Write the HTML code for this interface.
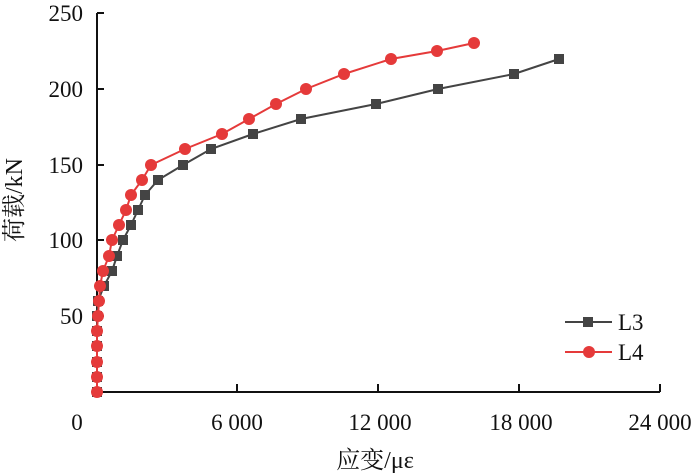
<!DOCTYPE html>
<html><head><meta charset="utf-8"><style>body{margin:0;background:#fff}svg{display:block}</style></head><body>
<svg width="700" height="475" xmlns="http://www.w3.org/2000/svg" font-family="'Liberation Serif','Noto Serif CJK SC',serif" font-size="23">
<g stroke="#111" stroke-width="2" fill="none">
<path d="M97,13V392H660"/>
<path d="M97,13H104M97,89H104M97,165H104M97,240H104M97,316H104"/>
<path d="M237,392V384M378,392V384M519,392V384M660,392V384"/>
</g>
<g fill="#111" text-anchor="end">
<text x="83" y="21">250</text><text x="83" y="97">200</text><text x="83" y="173">150</text><text x="83" y="248">100</text><text x="83" y="324">50</text>
</g>
<g fill="#111" text-anchor="middle">
<text x="77" y="430">0</text><text x="237" y="430">6 000</text><text x="380" y="430">12 000</text><text x="521" y="430">18 000</text><text x="660" y="430">24 000</text>
<text x="375" y="468" font-size="24">应变/με</text>
<text transform="translate(22,200) rotate(-90)" font-size="24">荷载/kN</text>
</g>
<polyline fill="none" stroke="#444" stroke-width="2" points="97,392 97,377 97,362 97,346 97,331 97,316 98,301 104,286 112,271 117,256 123,240 131,225 138,210 145,195 158,180 183,165 211,149 253,134 301,119 376,104 438,89 514,74 559,59"/>
<g fill="#444">
<rect x="92" y="387" width="10" height="10"/><rect x="92" y="372" width="10" height="10"/><rect x="92" y="357" width="10" height="10"/><rect x="92" y="341" width="10" height="10"/><rect x="92" y="326" width="10" height="10"/><rect x="92" y="311" width="10" height="10"/><rect x="93" y="296" width="10" height="10"/><rect x="99" y="281" width="10" height="10"/><rect x="107" y="266" width="10" height="10"/><rect x="112" y="251" width="10" height="10"/><rect x="118" y="235" width="10" height="10"/><rect x="126" y="220" width="10" height="10"/><rect x="133" y="205" width="10" height="10"/><rect x="140" y="190" width="10" height="10"/><rect x="153" y="175" width="10" height="10"/><rect x="178" y="160" width="10" height="10"/><rect x="206" y="144" width="10" height="10"/><rect x="248" y="129" width="10" height="10"/><rect x="296" y="114" width="10" height="10"/><rect x="371" y="99" width="10" height="10"/><rect x="433" y="84" width="10" height="10"/><rect x="509" y="69" width="10" height="10"/><rect x="554" y="54" width="10" height="10"/>
</g>
<polyline fill="none" stroke="#e53a3a" stroke-width="2" points="97,392 97,377 97,362 97,346 97,331 98,316 99,301 100,286 103,271 109,256 112,240 119,225 126,210 131,195 142,180 151,165 185,149 222,134 249,119 276,104 306,89 344,74 391,59 437,51 474,43"/>
<g fill="#e53a3a">
<circle cx="97" cy="392" r="6"/><circle cx="97" cy="377" r="6"/><circle cx="97" cy="362" r="6"/><circle cx="97" cy="346" r="6"/><circle cx="97" cy="331" r="6"/><circle cx="98" cy="316" r="6"/><circle cx="99" cy="301" r="6"/><circle cx="100" cy="286" r="6"/><circle cx="103" cy="271" r="6"/><circle cx="109" cy="256" r="6"/><circle cx="112" cy="240" r="6"/><circle cx="119" cy="225" r="6"/><circle cx="126" cy="210" r="6"/><circle cx="131" cy="195" r="6"/><circle cx="142" cy="180" r="6"/><circle cx="151" cy="165" r="6"/><circle cx="185" cy="149" r="6"/><circle cx="222" cy="134" r="6"/><circle cx="249" cy="119" r="6"/><circle cx="276" cy="104" r="6"/><circle cx="306" cy="89" r="6"/><circle cx="344" cy="74" r="6"/><circle cx="391" cy="59" r="6"/><circle cx="437" cy="51" r="6"/><circle cx="474" cy="43" r="6"/>
</g>
<line x1="565" y1="322" x2="612" y2="322" stroke="#444" stroke-width="2"/>
<rect x="583" y="317" width="10" height="10" fill="#444"/>
<line x1="565" y1="352" x2="612" y2="352" stroke="#e53a3a" stroke-width="2"/>
<circle cx="589" cy="352" r="6" fill="#e53a3a"/>
<text x="618" y="330" fill="#111">L3</text>
<text x="618" y="360" fill="#111">L4</text>
</svg>
</body></html>
